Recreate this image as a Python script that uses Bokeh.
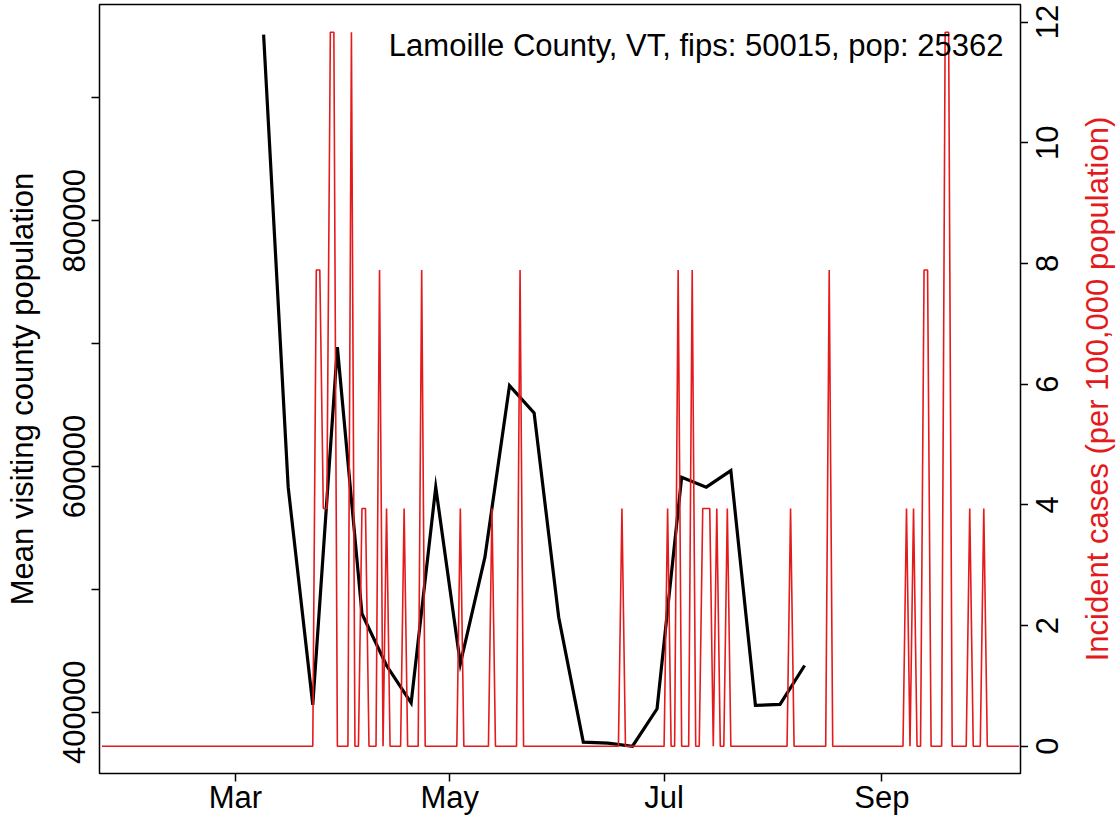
import math
import pandas as pd
from bokeh.plotting import figure
from bokeh.layouts import row
from bokeh.core.properties import value
from bokeh.models import (Range1d, LinearAxis, FixedTicker, DatetimeTickFormatter,
                          Label, ColumnDataSource)
from bokeh.embed import file_html
from bokeh.resources import INLINE

# ---------------- data ----------------
county_label = "Lamoille County, VT, fips: 50015, pop: 25362"

visit_dates = ["2020-03-09", "2020-03-16", "2020-03-23", "2020-03-30", "2020-04-06",
               "2020-04-13", "2020-04-20", "2020-04-27", "2020-05-04", "2020-05-11",
               "2020-05-18", "2020-05-25", "2020-06-01", "2020-06-08", "2020-06-15",
               "2020-06-22", "2020-06-29", "2020-07-06", "2020-07-13", "2020-07-20",
               "2020-07-27", "2020-08-03", "2020-08-10"]
visit_pop = [951600, 583200, 406000, 697100, 480100,
             438000, 407500, 583200, 439400, 526200,
             665900, 643700, 477300, 375600, 374800,
             372300, 402800, 591300, 583200, 596700,
             405500, 406300, 438000]

case_start = "2020-01-23"
case_end = "2020-10-10"
case_dates = ["2020-03-24", "2020-03-25", "2020-03-26", "2020-03-27", "2020-03-28",
              "2020-03-29", "2020-04-03", "2020-04-06", "2020-04-07", "2020-04-11",
              "2020-04-13", "2020-04-18", "2020-04-23", "2020-05-04", "2020-05-13",
              "2020-05-21", "2020-06-19", "2020-07-02", "2020-07-05", "2020-07-09",
              "2020-07-12", "2020-07-13", "2020-07-14", "2020-07-16", "2020-07-19",
              "2020-08-06", "2020-08-17", "2020-09-08", "2020-09-10", "2020-09-13",
              "2020-09-14", "2020-09-19", "2020-09-20", "2020-09-26", "2020-09-30"]
case_rates = [7.89, 7.89, 3.94, 3.94, 11.83,
              11.83, 11.83, 3.94, 3.94, 7.89,
              3.94, 3.94, 7.89, 3.94, 3.94,
              7.89, 3.94, 3.94, 7.89, 7.89,
              3.94, 3.94, 3.94, 3.94, 3.94,
              3.94, 7.89, 3.94, 3.94, 7.89,
              7.89, 11.83, 11.83, 3.94, 3.94]

x_tick_dates = ["2020-03-01", "2020-05-01", "2020-07-01", "2020-09-01"]
left_ticks = [400000, 500000, 600000, 700000, 800000, 900000]
left_label_ticks = [400000, 600000, 800000]
left_label_text = ["400000", "600000", "800000"]
right_ticks = [0, 2, 4, 6, 8, 10, 12]
right_label_text = ["0", "2", "4", "6", "8", "10", "12"]

left_title = "Mean visiting county population"
right_title = "Incident cases (per 100,000 population)"

# ---------------- build sources ----------------
days = pd.date_range(case_start, case_end, freq="D")
daily = pd.Series(0.0, index=days)
daily.loc[pd.to_datetime(case_dates)] = case_rates
case_src = ColumnDataSource(dict(date=daily.index, rate=daily.values))
visit_src = ColumnDataSource(dict(date=pd.to_datetime(visit_dates), pop=visit_pop))
ylab_src = ColumnDataSource(dict(y=left_label_ticks, text=left_label_text))
rlab_src = ColumnDataSource(dict(y=right_ticks, text=right_label_text))

RED = "#E41A1C"
FONT = "Liberation Sans"
FS = "31px"
FW, FH = 921, 769
TOTAL_H = 817
W_L, W_R = 91, 91

ref = pd.Timestamp("2020-03-01")
x_range = Range1d(start=(ref - pd.Timedelta(days=38.71)).to_pydatetime(),
                  end=(ref + pd.Timedelta(days=223.45)).to_pydatetime())
y_range = Range1d(350100, 976100)
case_range = Range1d(-0.452, 12.29)

p = figure(x_axis_type="datetime", frame_width=FW, frame_height=FH,
           min_border_left=8, min_border_right=8, min_border_top=4, min_border_bottom=44,
           x_range=x_range, y_range=y_range,
           output_backend="svg", toolbar_location=None)
p.extra_y_ranges = {"cases": case_range}
p.grid.visible = False
p.outline_line_color = "black"
p.outline_line_width = 1.5
p.outline_line_alpha = 1.0
p.background_fill_color = "white"
p.border_fill_color = "white"

right_axis = LinearAxis(y_range_name="cases", ticker=FixedTicker(ticks=right_ticks))
p.add_layout(right_axis, "right")


def style(ax):
    ax.axis_line_color = None
    ax.major_tick_line_color = "black"
    ax.major_tick_line_width = 1.5
    ax.major_tick_out = 8
    ax.major_tick_in = 0
    ax.minor_tick_line_color = None
    ax.major_label_text_font = FONT
    ax.major_label_text_font_size = FS
    ax.major_label_text_color = "black"


for ax in p.xaxis:
    style(ax)
    ax.ticker = FixedTicker(ticks=[pd.Timestamp(t).value / 1e6 for t in x_tick_dates])
    ax.formatter = DatetimeTickFormatter(years="%b", months="%b", days="%b", hours="%b",
                                         minutes="%b", seconds="%b", milliseconds="%b",
                                         minsec="%b", hourmin="%b")
    ax.major_label_standoff = -2

# vertical axes: ticks only here, their labels are drawn in the side strips
left_axis = p.yaxis[0]
for ax in (left_axis, right_axis):
    style(ax)
    ax.major_label_text_font_size = "0px"
    ax.major_label_text_color = None
    ax.major_label_standoff = 0
left_axis.ticker = FixedTicker(ticks=left_ticks)

p.line("date", "pop", source=visit_src, line_color="black", line_width=3.2,
       line_join="miter")
p.line("date", "rate", source=case_src, line_color=RED, line_width=1.6,
       y_range_name="cases")

p.add_layout(Label(x=904, y=728.5, x_units="screen", y_units="screen", text=county_label,
                   text_align="right", text_baseline="middle", text_font=FONT,
                   text_font_size=FS, text_color="black"))


def strip(width, yr):
    f = figure(width=width, height=TOTAL_H, x_axis_location=None, y_axis_location=None,
               min_border=0, toolbar_location=None, output_backend="svg",
               x_range=Range1d(0, width), y_range=yr)
    f.grid.visible = False
    f.outline_line_color = None
    f.background_fill_color = "white"
    f.border_fill_color = "white"
    return f


# left strip: y tick labels and the axis title (read bottom-to-top)
left_strip = strip(W_L, y_range)
left_strip.text(x=73, y="y", text="text", source=ylab_src, angle=math.pi / 2,
                text_align="center", text_baseline="middle", text_font=value(FONT),
                text_font_size=value(FS), text_color="black")
left_strip.add_layout(Label(x=21.5, y=FH / 2, x_units="screen", y_units="screen",
                            text=left_title, angle=math.pi / 2, text_align="center",
                            text_baseline="middle", text_font=FONT, text_font_size=FS,
                            text_color="black"))

# right strip: case tick labels and the red title (read bottom-to-top)
right_strip = strip(W_R, case_range)
right_strip.text(x=18.5, y="y", text="text", source=rlab_src, angle=math.pi / 2,
                 text_align="center", text_baseline="middle", text_font=value(FONT),
                 text_font_size=value(FS), text_color="black")
right_strip.add_layout(Label(x=69, y=FH / 2, x_units="screen", y_units="screen",
                             text=right_title, angle=math.pi / 2, text_align="center",
                             text_baseline="middle", text_font=FONT, text_font_size=FS,
                             text_color=RED))

layout = row(left_strip, p, right_strip)
open("out.html", "w").write(file_html(layout, INLINE))
